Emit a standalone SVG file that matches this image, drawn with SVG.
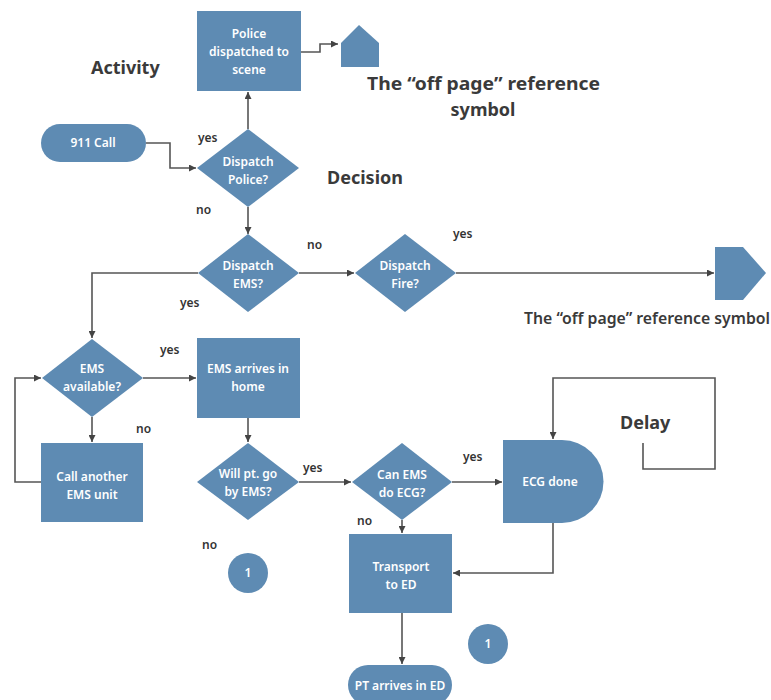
<svg xmlns="http://www.w3.org/2000/svg" width="771" height="700" viewBox="0 0 771 700">
  <style>
    .shape { fill: #5e8bb3; }
    .nt { fill: #ffffff; font-family: "Noto Sans", "DejaVu Sans", sans-serif; font-size: 12px; font-weight: 600; text-anchor: middle; }
    .lbl { fill: #333333; font-family: "Noto Sans", "DejaVu Sans", sans-serif; font-size: 12px; font-weight: 600; }
    .title { fill: #3a3a3a; font-family: "Noto Sans", "DejaVu Sans", sans-serif; font-size: 18px; font-weight: 700; }
    .cap { fill: #3a3a3a; font-family: "Noto Sans", "DejaVu Sans", sans-serif; font-size: 15.5px; font-weight: 600; }
    .edge { fill: none; stroke: #555555; stroke-width: 1.6; marker-end: url(#arr); }
  </style>
  <defs>
    <marker id="arr" viewBox="0 0 10 10" refX="10" refY="5" markerWidth="7" markerHeight="7" markerUnits="userSpaceOnUse" orient="auto">
      <path d="M0,0 L10,5 L0,10 z" fill="#444444"/>
    </marker>
  </defs>

  <!-- free labels -->
  <text class="title" x="91" y="74">Activity</text>
  <text class="title" x="327" y="184">Decision</text>
  <text class="title" x="620" y="429">Delay</text>
  <text class="title" x="367" y="90" textLength="233" lengthAdjust="spacingAndGlyphs">The “off page” reference</text>
  <text class="title" x="483" y="116" text-anchor="middle">symbol</text>
  <text class="cap" x="524" y="324" textLength="246" lengthAdjust="spacingAndGlyphs">The “off page” reference symbol</text>

  <!-- connectors -->
  <g id="connectors">
    <path class="edge" d="M301,52 H320 V44 H338"/>
    <path class="edge" d="M146,143 H170 V168 H196"/>
    <path class="edge" d="M248,129 V92"/>
    <path class="edge" d="M248,207 V234"/>
    <path class="edge" d="M299,273 H354"/>
    <path class="edge" d="M456,273 H714"/>
    <path class="edge" d="M198,273 H92 V338"/>
    <path class="edge" d="M143,378 H196"/>
    <path class="edge" d="M92,417 V442"/>
    <path class="edge" d="M41,482 H15 V378 H41"/>
    <path class="edge" d="M248,418 V442"/>
    <path class="edge" d="M299,482 H351"/>
    <path class="edge" d="M452,482 H502"/>
    <path class="edge" d="M643,443 V469 H715 V378 H553 V439"/>
    <path class="edge" d="M402,520 V533"/>
    <path class="edge" d="M553,523 V573 H453"/>
    <path class="edge" d="M402,613 V664"/>
    <!-- connector labels -->
    <text class="lbl" x="198" y="142">yes</text>
    <text class="lbl" x="196" y="214">no</text>
    <text class="lbl" x="307" y="249">no</text>
    <text class="lbl" x="453" y="238">yes</text>
    <text class="lbl" x="180" y="307">yes</text>
    <text class="lbl" x="160" y="354">yes</text>
    <text class="lbl" x="136" y="433">no</text>
    <text class="lbl" x="303" y="472">yes</text>
    <text class="lbl" x="463" y="461">yes</text>
    <text class="lbl" x="357" y="525">no</text>
    <text class="lbl" x="202" y="549">no</text>
  </g>

  <g id="police">
    <rect class="shape" x="197" y="11" width="104" height="80"/>
    <text class="nt" x="249" y="38">Police</text>
    <text class="nt" x="249" y="56">dispatched to</text>
    <text class="nt" x="249" y="74">scene</text>
  </g>
  <g id="offpage-top">
    <polygon class="shape" points="341,43 359,25 379,43 379,67 341,67"/>
  </g>
  <g id="call911">
    <rect class="shape" x="41" y="124" width="105" height="38" rx="19"/>
    <text class="nt" x="93" y="147">911 Call</text>
  </g>
  <g id="dispatch-police">
    <polygon class="shape" points="248,129 299,168 248,207 197,168"/>
    <text class="nt" x="248" y="166">Dispatch</text>
    <text class="nt" x="248" y="184">Police?</text>
  </g>
  <g id="dispatch-ems">
    <polygon class="shape" points="248,234 299,273 248,312 198,273"/>
    <text class="nt" x="248" y="270">Dispatch</text>
    <text class="nt" x="248" y="288">EMS?</text>
  </g>
  <g id="dispatch-fire">
    <polygon class="shape" points="405,234 456,273 405,312 355,273"/>
    <text class="nt" x="405" y="270">Dispatch</text>
    <text class="nt" x="405" y="288">Fire?</text>
  </g>
  <g id="offpage-right">
    <polygon class="shape" points="715,247 743,247 766,273 743,300 715,300"/>
  </g>
  <g id="ems-available">
    <polygon class="shape" points="92,339 143,378 92,417 42,378"/>
    <text class="nt" x="92" y="373">EMS</text>
    <text class="nt" x="92" y="391">available?</text>
  </g>
  <g id="ems-arrives">
    <rect class="shape" x="197" y="338" width="103" height="80"/>
    <text class="nt" x="248" y="373">EMS arrives in</text>
    <text class="nt" x="248" y="391">home</text>
  </g>
  <g id="call-another">
    <rect class="shape" x="41" y="443" width="102" height="79"/>
    <text class="nt" x="92" y="481">Call another</text>
    <text class="nt" x="92" y="499">EMS unit</text>
  </g>
  <g id="will-pt-go">
    <polygon class="shape" points="248,443 299,482 248,520 197,482"/>
    <text class="nt" x="248" y="478">Will pt. go</text>
    <text class="nt" x="248" y="496">by EMS?</text>
  </g>
  <g id="can-ems-ecg">
    <polygon class="shape" points="402,443 452,482 402,520 352,482"/>
    <text class="nt" x="402" y="479">Can EMS</text>
    <text class="nt" x="402" y="497">do ECG?</text>
  </g>
  <g id="ecg-done">
    <path class="shape" d="M503,440 H562 A41.5,41.5 0 0 1 562,523 H503 Z"/>
    <text class="nt" x="550" y="486">ECG done</text>
  </g>
  <g id="transport">
    <rect class="shape" x="349" y="534" width="103" height="79"/>
    <text class="nt" x="401" y="571">Transport</text>
    <text class="nt" x="401" y="589">to ED</text>
  </g>
  <g id="pt-arrives">
    <rect class="shape" x="348" y="665" width="104" height="40" rx="20"/>
    <text class="nt" x="400" y="690">PT arrives in ED</text>
  </g>
  <g id="connector-left">
    <circle class="shape" cx="248" cy="573" r="20"/>
    <text class="nt" x="248" y="577">1</text>
  </g>
  <g id="connector-right">
    <circle class="shape" cx="488" cy="644" r="20"/>
    <text class="nt" x="488" y="648">1</text>
  </g>
</svg>
